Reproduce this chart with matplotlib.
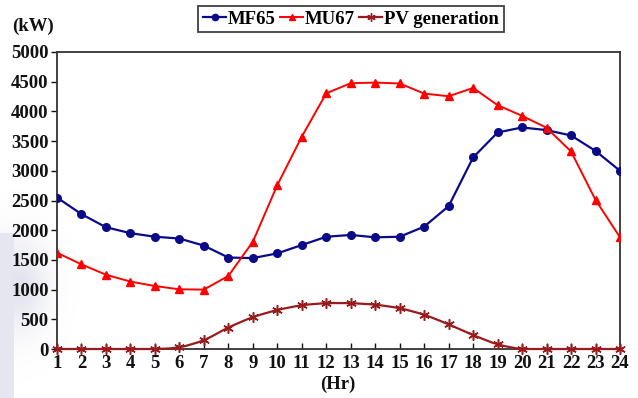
import numpy as np
import matplotlib
matplotlib.use("Agg")
import matplotlib.pyplot as plt
from matplotlib.path import Path
from matplotlib.patches import PathPatch
from matplotlib.lines import Line2D

hours = list(range(1, 25))
mf65 = [2550, 2270, 2050, 1950, 1890, 1860, 1740, 1540, 1530, 1610, 1750, 1890,
        1920, 1880, 1890, 2060, 2405, 3225, 3645, 3730, 3685, 3595, 3335, 3000]
mu67 = [1620, 1425, 1250, 1135, 1060, 1005, 1000, 1230, 1805, 2760, 3575, 4305,
        4475, 4485, 4470, 4300, 4255, 4395, 4105, 3925, 3725, 3325, 2510, 1880]
pv = [0, 0, 0, 0, 0, 30, 150, 360, 535, 655, 735, 770,
      770, 745, 685, 575, 415, 235, 80, 0, 0, 0, 0, 0]

xticks = list(range(1, 25))
yticks = list(range(0, 5001, 500))

c_mf = "#0b0b8a"
c_mu = "#ff0000"
c_pv = "#9a1b1b"

plt.rcParams["font.family"] = ["Liberation Serif", "DejaVu Serif"]
plt.rcParams["font.weight"] = "bold"

fig = plt.figure(figsize=(6.38, 3.98), dpi=100)
fig.patch.set_facecolor("white")

# faint background wash on the lower left edge
bg = fig.add_axes([0, 0, 1, 1], zorder=-10)
bg.set_axis_off()
yy, xx = np.mgrid[0:398, 0:638].astype(float)
strip = ((xx < 14) & (yy > 232)).astype(float) * 0.35
blob = np.exp(-(((xx - 18) / 28.0) ** 2 + ((yy - 285) / 45.0) ** 2)) * 0.4
alpha = np.clip(np.maximum(strip, blob), 0, 1)
rgba = np.zeros((398, 638, 4))
rgba[..., 0] = 0.72
rgba[..., 1] = 0.73
rgba[..., 2] = 0.83
rgba[..., 3] = alpha
bg.imshow(rgba, extent=[0, 1, 0, 1], aspect="auto", origin="upper")
bg.set_xlim(0, 1)
bg.set_ylim(0, 1)

ax = fig.add_axes([57 / 638, 1 - 349 / 398, (620 - 57) / 638, (349 - 52) / 398])
ax.set_facecolor("none")

ax.plot(hours, mf65, color=c_mf, lw=1.6, marker="o", ms=5.5, zorder=4)
ax.plot(hours, mu67, color=c_mu, lw=1.4, marker="^", ms=5.5, zorder=4)

# PV curve drawn as a smoothed cubic path through the hourly values
px = np.array(hours, dtype=float)
py = np.array(pv, dtype=float)
n = len(px)
verts = [(px[0], py[0])]
codes = [Path.MOVETO]
for i in range(n - 1):
    p0 = (px[max(i - 1, 0)], py[max(i - 1, 0)])
    p1 = (px[i], py[i])
    p2 = (px[i + 1], py[i + 1])
    p3 = (px[min(i + 2, n - 1)], py[min(i + 2, n - 1)])
    c1 = (p1[0] + (p2[0] - p0[0]) / 6, max(p1[1] + (p2[1] - p0[1]) / 6, 0))
    c2 = (p2[0] - (p3[0] - p1[0]) / 6, max(p2[1] - (p3[1] - p1[1]) / 6, 0))
    verts += [c1, c2, p2]
    codes += [Path.CURVE4] * 3
ax.add_patch(PathPatch(Path(verts, codes), fill=False, edgecolor=c_pv, lw=1.6,
                       zorder=3, clip_on=False))
ax.plot(hours, pv, ls="none", color=c_pv, marker=(6, 2, 0), ms=7.5, mew=1.1,
        zorder=5, clip_on=False)

ax.set_xlim(1, 24)
ax.set_ylim(0, 5000)
ax.set_xticks(xticks)
ax.set_yticks(yticks)
ax.tick_params(axis="x", direction="in", length=4, width=1, pad=4,
               labelsize=13.5, colors="#111111")
ax.tick_params(axis="y", direction="out", length=4, width=1, pad=2,
               labelsize=13.5, colors="#111111")
for lab in ax.get_xticklabels() + ax.get_yticklabels():
    lab.set_fontweight("bold")
for s in ax.spines.values():
    s.set_linewidth(1.3)
    s.set_color("#333333")

fig.text(12 / 638, 1 - 26 / 398, "(kW)", fontsize=13.5, fontweight="bold",
         ha="left", va="center", color="#111111")
fig.text(338 / 638, 1 - 384 / 398, "(Hr)", fontsize=13.5, fontweight="bold",
         ha="center", va="center", color="#111111")

handles = [
    Line2D([], [], color=c_mf, lw=1.6, marker="o", ms=4.5),
    Line2D([], [], color=c_mu, lw=1.4, marker="^", ms=4.5),
    Line2D([], [], color=c_pv, lw=1.6, marker=(6, 2, 0), ms=6, mew=1.0),
]
leg = fig.legend(handles, ["MF65", "MU67", "PV generation"], loc="center",
                 bbox_to_anchor=(351 / 638, 1 - 19 / 398), ncol=3,
                 frameon=True, fancybox=False, edgecolor="#111111",
                 handlelength=1.25, handletextpad=0.1, columnspacing=0.2,
                 borderpad=0.25, borderaxespad=0,
                 prop={"family": "Liberation Serif", "weight": "bold", "size": 13.5})
leg.get_frame().set_linewidth(1.3)

fig.savefig("out.png", dpi=100, facecolor="white")
